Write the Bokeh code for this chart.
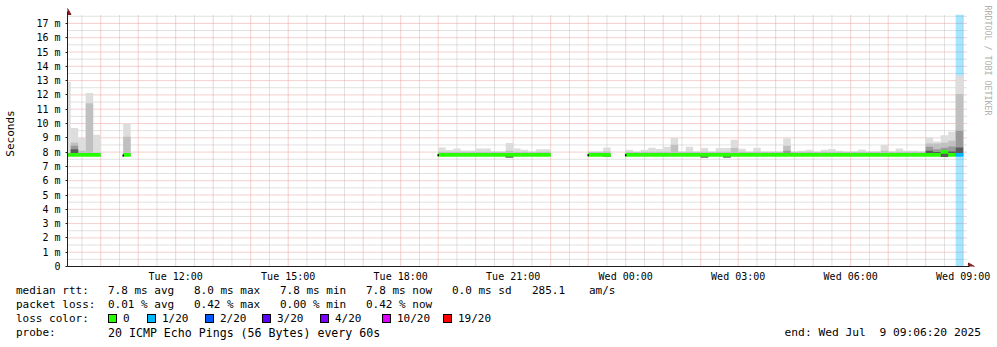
import math
import html
import numpy as np
from bokeh.plotting import figure
from bokeh.layouts import column
from bokeh.models import FixedTicker, Range1d, Div
from bokeh.core.properties import value
from bokeh.embed import file_html
from bokeh.resources import INLINE

# ---------------- data ----------------
view_start = 9.115      # left edge of graph, hours since Tue 00:00
view_hours = 24.0
step_h = 0.2            # 12-minute consolidation step
y_data_top = 17.6       # ms, top of the graph area

# contiguous runs of data: start hour and number of 12-min bins
seg_start = [9.0, 10.6, 19.0, 23.0, 24.0]
seg_bins = [5, 1, 15, 3, 45]

# median rtt per bin (ms)
median = [7.80, 7.80, 7.80, 7.80, 7.80,
          7.80,
          7.81, 7.81, 7.81, 7.81, 7.81, 7.81, 7.81, 7.81, 7.81, 7.81, 7.81, 7.81, 7.81, 7.81, 7.81,
          7.81, 7.81, 7.80,
          7.81, 7.81, 7.81, 7.81, 7.81, 7.81, 7.81, 7.81, 7.81, 7.81,
          7.81, 7.81, 7.81, 7.81, 7.81, 7.81, 7.81, 7.81, 7.81, 7.81,
          7.81, 7.81, 7.81, 7.81, 7.81, 7.81, 7.81, 7.81, 7.81, 7.81,
          7.81, 7.81, 7.81, 7.81, 7.81, 7.81, 7.81, 7.81, 7.81, 7.81,
          7.81, 7.81, 8.02, 7.81, 7.81]
# smoke: outer (max) layer top
smoke_hi = [12.90, 9.68, 8.98, 12.13, 9.22,
            10.00,
            8.33, 8.15, 8.25, 8.12, 8.12, 8.26, 8.26, 8.05, 8.05, 8.63, 8.26, 8.17, 8.03, 8.20, 8.20,
            8.03, 8.05, 8.33,
            8.17, 7.98, 8.17, 8.30, 8.21, 8.38, 8.98, 8.03, 8.38, 8.03,
            8.28, 8.03, 8.28, 8.28, 8.87, 8.24, 8.03, 8.30, 8.03, 8.03,
            8.03, 8.96, 8.03, 8.10, 8.17, 8.03, 8.17, 8.22, 8.10, 8.03,
            8.05, 8.19, 8.05, 8.05, 8.50, 8.05, 8.26, 8.10, 8.10, 8.05,
            9.03, 8.75, 9.17, 9.43, 13.35]
# smoke: second layer top
smoke_mid = [7.95, 8.68, 8.10, 11.41, 7.98,
             9.08,
             8.03, 8.03, 8.03, 8.03, 8.03, 8.03, 8.03, 8.03, 8.03, 8.10, 8.03, 8.03, 8.03, 8.03, 8.03,
             8.03, 8.03, 8.05,
             8.03, 8.03, 8.03, 8.03, 8.03, 8.03, 8.52, 8.03, 8.03, 8.03,
             8.03, 8.03, 8.03, 8.03, 8.28, 8.03, 8.03, 8.03, 8.03, 8.03,
             8.03, 8.45, 8.03, 8.03, 8.03, 8.03, 8.03, 8.03, 8.03, 8.03,
             8.03, 8.03, 8.03, 8.03, 8.10, 8.03, 8.03, 8.03, 8.03, 8.03,
             8.60, 8.60, 8.65, 8.80, 12.06]
# smoke: third layer top
smoke_dark = [7.80, 8.45, 7.80, 7.80, 7.80,
              7.80,
              7.80, 7.80, 7.80, 7.80, 7.80, 7.80, 7.80, 7.80, 7.80, 7.80, 7.80, 7.80, 7.80, 7.80, 7.80,
              7.80, 7.80, 7.80,
              7.80, 7.80, 7.80, 7.80, 7.80, 7.80, 7.80, 7.80, 7.80, 7.80,
              7.80, 7.80, 7.80, 7.80, 7.80, 7.80, 7.80, 7.80, 7.80, 7.80,
              7.80, 8.10, 7.80, 7.80, 7.80, 7.80, 7.80, 7.80, 7.80, 7.80,
              7.80, 7.80, 7.80, 7.80, 7.80, 7.80, 7.80, 7.80, 7.80, 7.80,
              8.37, 8.20, 8.30, 8.40, 9.50]
# smoke: inner core top
smoke_core = [7.80, 8.20, 7.80, 7.80, 7.80,
              7.80,
              7.80, 7.80, 7.80, 7.80, 7.80, 7.80, 7.80, 7.80, 7.80, 7.80, 7.80, 7.80, 7.80, 7.80, 7.80,
              7.80, 7.80, 7.80,
              7.80, 7.80, 7.80, 7.80, 7.80, 7.80, 7.80, 7.80, 7.80, 7.80,
              7.80, 7.80, 7.80, 7.80, 7.80, 7.80, 7.80, 7.80, 7.80, 7.80,
              7.80, 7.80, 7.80, 7.80, 7.80, 7.80, 7.80, 7.80, 7.80, 7.80,
              7.80, 7.80, 7.80, 7.80, 7.80, 7.80, 7.80, 7.80, 7.80, 7.80,
              8.10, 8.00, 7.95, 8.05, 8.33]
# smoke: bottom (min) of all layers
smoke_low = [7.72, 7.72, 7.72, 7.72, 7.72,
             7.72,
             7.72, 7.72, 7.72, 7.72, 7.72, 7.72, 7.72, 7.72, 7.72, 7.63, 7.72, 7.72, 7.72, 7.72, 7.72,
             7.72, 7.72, 7.70,
             7.72, 7.72, 7.72, 7.72, 7.72, 7.72, 7.72, 7.72, 7.72, 7.72,
             7.63, 7.72, 7.72, 7.63, 7.72, 7.72, 7.72, 7.72, 7.72, 7.72,
             7.72, 7.72, 7.72, 7.72, 7.72, 7.72, 7.72, 7.72, 7.72, 7.72,
             7.72, 7.72, 7.72, 7.72, 7.72, 7.72, 7.72, 7.72, 7.72, 7.72,
             7.72, 7.72, 7.66, 7.72, 7.72]
# lost pings out of 20 per bin
loss = [0] * 68 + [1]

loss_levels = [0, 1, 2, 3, 4, 10, 19]
loss_colors = ["#26ff00", "#00b8ff", "#0059ff", "#5e00ff", "#7e00ff", "#dd00ff", "#ff0000"]
loss_labels = ["0", "1/20", "2/20", "3/20", "4/20", "10/20", "19/20"]

x_tick_hours = [12, 15, 18, 21, 24, 27, 30, 33]
x_tick_labels = ["Tue 12:00", "Tue 15:00", "Tue 18:00", "Tue 21:00",
                 "Wed 00:00", "Wed 03:00", "Wed 06:00", "Wed 09:00"]
y_tick_values = list(range(0, 18))
y_tick_labels = ["0"] + [f"{v} m" for v in range(1, 18)]

row_rtt = ["median rtt:", "7.8 ms avg", "8.0 ms max", "7.8 ms min", "7.8 ms now",
           "0.0 ms sd", "285.1", "am/s"]
row_loss = ["packet loss:", "0.01 % avg", "0.42 % max", "0.00 % min", "0.42 % now"]
row_color_title = "loss color:"
row_probe = ["probe:", "20 ICMP Echo Pings (56 Bytes) every 60s"]
end_text = "end: Wed Jul  9 09:06:20 2025"
watermark = "RRDTOOL / TOBI OETIKER"

# ---------------- layout constants ----------------
W = 997
H1 = 284                  # main figure height
H2 = 347 - H1             # legend strip height
FL, FB = 67, 266          # frame left / axis line position
PXH = 37.5                # pixels per hour
PXM = 14.3                # pixels per ms
MONO = "DejaVu Sans Mono"


def xd(px):
    return view_start + (px - FL) / PXH


def yd(py):
    return (FB - py) / PXM


p = figure(width=W, height=H1, output_backend="svg", toolbar_location=None,
           x_range=Range1d(view_start, xd(W)), y_range=Range1d(0, yd(0)),
           min_border_left=FL, min_border_right=0, min_border_top=0,
           min_border_bottom=H1 - FB)
p.outline_line_color = None
p.background_fill_color = "white"
p.border_fill_color = "white"
p.xgrid.visible = False
p.ygrid.visible = False

x_end = view_start + view_hours

# grid lines (rrdtool style, limited to the graph area)
hours = list(range(10, 34))
half_hours = [h + 0.5 for h in range(9, 33)]
ms_major = y_tick_values[1:]
ms_minor = [v + 0.5 for v in y_tick_values]
minor_style = dict(line_color="#c2c2c2", line_width=1, line_dash="1 1")
major_style = dict(line_color="#eba0a0", line_width=1, line_dash="1 1")
p.segment(x0=half_hours, x1=half_hours, y0=0, y1=y_data_top, **minor_style)
p.segment(x0=view_start, x1=x_end, y0=ms_minor, y1=ms_minor, **minor_style)
p.segment(x0=hours, x1=hours, y0=0, y1=y_data_top, **major_style)
p.segment(x0=view_start, x1=x_end, y0=ms_major, y1=ms_major, **major_style)

# axes
p.xaxis.ticker = FixedTicker(ticks=x_tick_hours)
p.xaxis.major_label_overrides = {h: l for h, l in zip(x_tick_hours, x_tick_labels)}
p.yaxis.ticker = FixedTicker(ticks=y_tick_values)
p.yaxis.major_label_overrides = {v: l for v, l in zip(y_tick_values, y_tick_labels)}
p.xaxis.bounds = (view_start, xd(969))
p.yaxis.bounds = (0, yd(11))
for ax in (p.xaxis, p.yaxis):
    ax.axis_line_color = "#1f1f1f"
    ax.major_tick_line_color = "#1f1f1f"
    ax.minor_tick_line_color = None
    ax.major_label_text_font = MONO
    ax.major_label_text_font_size = "10px"
    ax.major_label_text_color = "black"
    ax.major_tick_in = 0
p.xaxis.major_tick_out = 0
p.xaxis.major_label_standoff = 4
p.yaxis.major_tick_out = 2
p.yaxis.major_label_standoff = 5
p.yaxis.axis_label = "Seconds"
p.yaxis.axis_label_text_font = MONO
p.yaxis.axis_label_text_font_size = "11px"
p.yaxis.axis_label_text_font_style = "normal"
p.yaxis.axis_label_text_color = "black"
p.yaxis.axis_label_standoff = 16

# bins
left = []
for s, n in zip(seg_start, seg_bins):
    for i in range(n):
        left.append(s + i * step_h)
left = np.array(left)
right = left + step_h
median_a = np.array(median)
low_a = np.array(smoke_low)
loss_a = np.array(loss)


def loss_color(n):
    c = loss_colors[0]
    for lv, col in zip(loss_levels, loss_colors):
        if n >= lv:
            c = col
    return c


colors = [loss_color(n) for n in loss]

# loss background
m = loss_a > 0
p.quad(left=left[m], right=right[m], bottom=0, top=y_data_top,
       fill_color=[c for c, k in zip(colors, m) if k], fill_alpha=0.35, line_color=None)

# smoke layers
for tops, col in [(smoke_hi, "#dddddd"), (smoke_mid, "#c0c0c0"),
                  (smoke_dark, "#9a9a9a"), (smoke_core, "#5a5a5a")]:
    t = np.array(tops)
    k = t > low_a
    p.quad(left=left[k], right=right[k], bottom=low_a[k], top=t[k],
           fill_color=col, line_color=None)

# median line coloured by loss
p.quad(left=left, right=right, bottom=median_a - 0.13, top=median_a + 0.13,
       fill_color=colors, line_color=None)

# black marks at the start of each run
starts = np.cumsum([0] + seg_bins[:-1])
p.rect(x=left[starts], y=median_a[starts] - 0.03, width=1.5, height=2,
       width_units="screen", height_units="screen", fill_color="black", line_color=None)

# axis arrow heads
p.scatter(x=[view_start], y=[yd(12)], marker="triangle", size=7,
          fill_color="#801f1f", line_color="#801f1f")
p.scatter(x=[xd(970)], y=[0], marker="triangle", angle=-math.pi / 2, size=7,
          fill_color="#801f1f", line_color="#801f1f")

# watermark
p.text(x=[xd(987)], y=[yd(5)], text=[watermark], angle=-math.pi / 2,
       text_align="left", text_baseline="middle", text_font=value(MONO),
       text_font_size="8.3px", text_color="#b0b0b0")

# ---------------- legend strip (HTML) ----------------
parts = []


def span(s, px, py, align="left", size=11):
    pos = f"left:{px}px;" if align == "left" else f"right:{W - px}px;"
    body = html.escape(s).replace("  ", " &nbsp;")
    parts.append(f'<span style="position:absolute;{pos}top:{py - H1 - 7}px;'
                 f'font-size:{size}px;line-height:14px;white-space:pre;">'
                 f'{body}</span>')


rtt_x = [16, 108, 194, 280, 366, 452, 532, 589]
for s, px in zip(row_rtt, rtt_x):
    span(s, px, 291)
for s, px in zip(row_loss, rtt_x):
    span(s, px, 305)
span(row_color_title, 16, 319)
box_x = [108, 147, 205, 262, 320, 382, 443]
for bx, col, lab in zip(box_x, loss_colors, loss_labels):
    parts.append(f'<span style="position:absolute;left:{bx}px;top:{319 - H1 - 5}px;'
                 f'width:9px;height:9px;box-sizing:border-box;border:1px solid #000;'
                 f'background:{col};"></span>')
    span(lab, bx + 15, 319)
span(row_probe[0], 16, 333)
span(row_probe[1], 108, 333, size=11.6)
span(end_text, 981, 333, align="right", size=11.25)

legend_html = (f'<div style="position:relative;width:{W}px;height:{H2}px;'
               f'font-family:\'{MONO}\';font-size:11px;color:#000;background:#fff;">'
               + "".join(parts) + "</div>")
q = Div(text=legend_html, width=W, height=H2, margin=(0, 0, 0, 0))

open("out.html", "w").write(file_html(column(p, q, spacing=0), INLINE))
